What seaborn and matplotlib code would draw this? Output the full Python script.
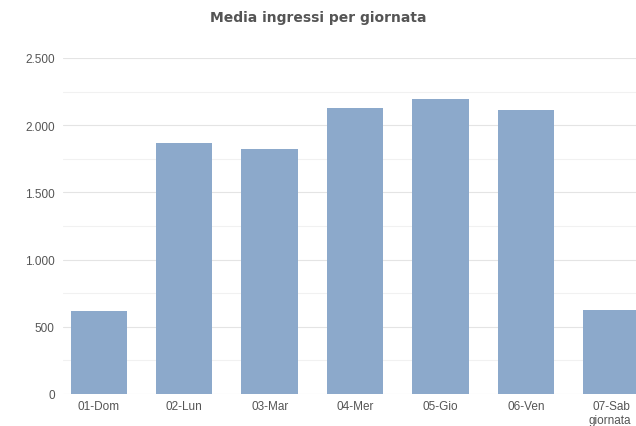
import matplotlib
matplotlib.use('Agg')
import matplotlib.pyplot as plt
import matplotlib.ticker as mticker
import seaborn as sns
import pandas as pd

giornate = ['01-Dom', '02-Lun', '03-Mar', '04-Mer', '05-Gio', '06-Ven', '07-Sab']
media_ingressi = [618, 1870, 1820, 2128, 2192, 2110, 624]

df = pd.DataFrame({'giornata': giornate, 'media': media_ingressi})

sns.set_style('white')
plt.rcParams['font.family'] = ['Liberation Sans', 'DejaVu Sans']

fig = plt.figure(figsize=(6.36, 4.27), dpi=100)
ax = fig.add_axes([63 / 636, 32 / 427, 573 / 636, 336 / 427])

sns.barplot(data=df, x='giornata', y='media', color='#8CA9CB', width=0.66,
            saturation=1, linewidth=0, ax=ax, zorder=3)

ax.set_xlim(-0.42, 6.29)
ax.set_ylim(0, 2500)
ax.yaxis.set_major_locator(mticker.MultipleLocator(500))
ax.yaxis.set_minor_locator(mticker.MultipleLocator(250))
ax.yaxis.set_major_formatter(mticker.FuncFormatter(lambda v, p: f'{int(v):,}'.replace(',', '.')))
ax.grid(axis='y', which='major', color='#e4e4e4', lw=0.8, zorder=0)
ax.grid(axis='y', which='minor', color='#f1f1f1', lw=0.8, zorder=0)
ax.set_axisbelow(True)
for s in ax.spines.values():
    s.set_visible(False)
ax.tick_params(axis='both', length=0, labelsize=8.5, colors='#555555', pad=6)
ax.tick_params(axis='x', pad=4)

ax.set_xlabel('')
ax.set_ylabel('')
fig.text(610 / 636, 1 - 421 / 427, 'giornata', ha='center', va='center',
         fontsize=8.5, color='#555555')
fig.text(0.5, 1 - 18 / 427, 'Media ingressi per giornata', ha='center', va='center',
         fontsize=10, fontweight='bold', color='#555555', family='DejaVu Sans')

fig.savefig('out.png', dpi=100)
